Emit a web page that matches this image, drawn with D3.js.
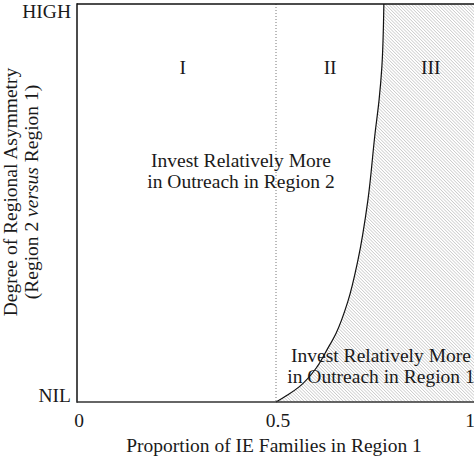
<!DOCTYPE html>
<html>
<head>
<meta charset="utf-8">
<script src="https://cdn.jsdelivr.net/npm/d3@7"></script>
<style>
  body { margin: 0; background: #fff; }
  text { font-family: "Liberation Serif", Tinos, "Times New Roman", Times, "DejaVu Serif", serif; fill: #1a1a1a; font-size: 19.5px; }
</style>
</head>
<body>
<svg id="chart" width="474" height="461"></svg>
<script>
'use strict'

// boundary between region 2 and region 1 investment (x = proportion, y = asymmetry 0..1)
const boundary = [
    [0.500, 0.000], [0.530, 0.018], [0.558, 0.038], [0.603, 0.088],
    [0.628, 0.131], [0.651, 0.173], [0.681, 0.254], [0.706, 0.357],
    [0.731, 0.508], [0.749, 0.676], [0.759, 0.759], [0.766, 0.842],
    [0.771, 1.000]
];
const xTicks = [0, 0.5, 1];
const xTickLabels = ['0', '0.5', '1'];
const yTicks = [0, 1];
const yTickLabels = ['NIL', 'HIGH'];
const zones = [
    { label: 'I', x: 0.266 },
    { label: 'II', x: 0.636 },
    { label: 'III', x: 0.889 }
];

var width = 474, height = 461;
var mLeft = 77, mRight = 475, mTop = 4, mBottom = 402;

var svg = d3.select('#chart');

var x = d3.scaleLinear().domain([0, 1]).range([mLeft, mRight]);
var y = d3.scaleLinear().domain([0, 1]).range([mBottom, mTop]);

var defs = svg.append('defs');
defs.append('pattern')
    .attr('id', 'hatch')
    .attr('patternUnits', 'userSpaceOnUse')
    .attr('width', 2.3)
    .attr('height', 2.3)
    .attr('patternTransform', 'rotate(-45)')
    .append('line')
    .attr('x1', 0).attr('y1', 0)
    .attr('x2', 0).attr('y2', 2.3)
    .attr('stroke', '#8c8c8c')
    .attr('stroke-width', 0.7);

var line = d3.line().curve(d3.curveMonotoneY).x(d => x(d[0])).y(d => y(d[1]));

// shaded region III
svg.append('path')
    .attr('d', line(boundary) + 'L' + width + ',' + y(1) + 'L' + width + ',' + y(0) + 'Z')
    .attr('fill', 'url(#hatch)');

// dotted divider at 0.5
svg.append('line')
    .attr('x1', x(0.5)).attr('x2', x(0.5))
    .attr('y1', y(1)).attr('y2', y(0))
    .attr('stroke', '#777')
    .attr('stroke-width', 1)
    .attr('stroke-dasharray', '1,2');

// curve
svg.append('path')
    .attr('d', line(boundary))
    .attr('fill', 'none')
    .attr('stroke', '#111')
    .attr('stroke-width', 1.2);

// frame
svg.append('line')
    .attr('x1', x(0)).attr('x2', width)
    .attr('y1', y(1)).attr('y2', y(1))
    .attr('stroke', '#111').attr('stroke-width', 1.5);
svg.append('line')
    .attr('x1', x(0)).attr('x2', x(0))
    .attr('y1', y(1) - 0.75).attr('y2', y(0) + 0.75)
    .attr('stroke', '#111').attr('stroke-width', 1.5);
svg.append('line')
    .attr('x1', x(0)).attr('x2', width)
    .attr('y1', y(0)).attr('y2', y(0))
    .attr('stroke', '#333').attr('stroke-width', 1.5);

// ticks
svg.selectAll('.xtick')
    .data(xTicks)
    .enter().append('text')
    .attr('class', 'xtick')
    .attr('x', (d, i) => x(d) + (i === 2 ? -5 : 2))
    .attr('y', 427)
    .attr('text-anchor', 'middle')
    .text((d, i) => xTickLabels[i]);

svg.selectAll('.ytick')
    .data(yTicks)
    .enter().append('text')
    .attr('class', 'ytick')
    .attr('x', 71)
    .attr('y', d => d === 1 ? y(d) + 14 : y(d))
    .attr('text-anchor', 'end')
    .text((d, i) => yTickLabels[i]);

// zone labels
svg.selectAll('.zone')
    .data(zones)
    .enter().append('text')
    .attr('class', 'zone')
    .attr('x', d => x(d.x))
    .attr('y', 74)
    .attr('text-anchor', 'middle')
    .text(d => d.label);

// annotations
var note2 = svg.append('text')
    .attr('text-anchor', 'middle');
note2.append('tspan').attr('x', 241).attr('y', 167).text('Invest Relatively More');
note2.append('tspan').attr('x', 241).attr('y', 188).text('in Outreach in Region 2');

var note1 = svg.append('text')
    .attr('text-anchor', 'middle');
note1.append('tspan').attr('x', 381).attr('y', 362).text('Invest Relatively More');
note1.append('tspan').attr('x', 381).attr('y', 383).text('in Outreach in Region 1');

// axis titles
svg.append('text')
    .attr('x', 274)
    .attr('y', 452)
    .attr('text-anchor', 'middle')
    .text('Proportion of IE Families in Region 1');

var ytitle = svg.append('text')
    .attr('transform', 'translate(0,192) rotate(-90)')
    .attr('text-anchor', 'middle');
ytitle.append('tspan').attr('x', 0).attr('y', 17).text('Degree of Regional Asymmetry');
var l2 = ytitle.append('tspan').attr('x', 0).attr('y', 38);
l2.append('tspan').text('(Region 2 ');
l2.append('tspan').style('font-style', 'italic').text('versus');
l2.append('tspan').text(' Region 1)');
</script>
</body>
</html>
